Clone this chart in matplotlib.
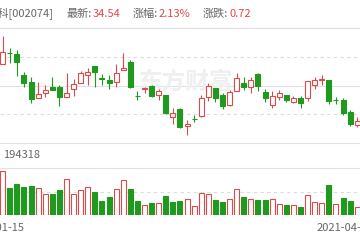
import matplotlib
matplotlib.use('Agg')
import matplotlib.pyplot as plt
from matplotlib.patches import Rectangle

plt.rcParams['font.family'] = ['Noto Sans CJK SC', 'DejaVu Sans']

# Daily K-line data (2021-01-15 .. 2021-04-02)
opens = [45.82, 48.16, 47.82, 43.68, 42.34, 39.14, 40.14, 41.28, 41.28, 39.34,
         40.82, 42.02, 43.68, 45.54, 43.08, 42.68, 42.22, 44.62, 46.34, 39.58,
         40.88, 41.48, 39.68, 39.68, 35.22, 36.82, 33.48, 34.92, 35.48, 39.34,
         41.02, 39.68, 37.68, 40.48, 42.02, 41.22, 43.82, 40.34, 37.68, 39.22,
         39.68, 38.34, 39.02, 39.02, 41.68, 42.74, 42.68, 38.70, 38.62, 36.34,
         33.78]
highs = [51.58, 49.02, 48.68, 44.34, 43.22, 42.22, 41.68, 43.34, 41.68, 44.02,
         42.82, 44.48, 45.14, 45.54, 43.82, 43.68, 45.88, 48.08, 46.68, 40.48,
         41.34, 41.68, 40.82, 39.68, 37.02, 37.02, 34.68, 35.68, 39.68, 42.14,
         41.14, 40.02, 40.68, 44.02, 43.34, 43.34, 44.02, 40.82, 40.54, 40.68,
         39.68, 39.48, 39.48, 42.48, 43.34, 43.68, 42.68, 39.34, 39.02, 36.68,
         35.22]
lows = [45.82, 46.08, 43.48, 41.22, 38.14, 39.14, 39.34, 40.62, 37.48, 39.34,
        39.48, 42.02, 41.68, 41.34, 41.68, 40.78, 41.34, 44.62, 41.02, 38.68,
        40.02, 39.34, 38.68, 35.82, 33.88, 33.02, 31.68, 34.22, 35.34, 38.48,
        38.34, 36.82, 37.48, 40.48, 40.68, 40.14, 40.54, 38.22, 37.02, 38.68,
        38.34, 38.02, 37.14, 38.48, 40.88, 41.68, 37.88, 37.94, 35.68, 33.48,
        33.34]
closes = [48.34, 48.12, 46.22, 42.02, 38.82, 39.94, 40.68, 40.62, 39.34, 40.14,
          41.82, 44.02, 44.34, 44.22, 42.96, 42.08, 44.08, 45.14, 41.38, 39.50,
          41.08, 39.54, 40.54, 36.14, 36.02, 33.34, 33.82, 34.84, 39.14, 41.48,
          39.14, 37.48, 40.34, 43.14, 41.22, 42.68, 41.48, 39.14, 39.48, 40.14,
          38.68, 39.02, 38.14, 42.48, 42.68, 42.82, 38.54, 38.66, 36.02, 33.82,
          34.54]
volumes = [183100, 110400, 128200, 114500, 118600, 110400, 86800, 86800, 103400, 147600,
           86800, 102100, 114500, 95100, 59100, 75700, 108700, 143500, 108700, 59100,
           42600, 48400, 48400, 80600, 53700, 59900, 66100, 37200, 93000, 86800,
           62000, 52500, 66100, 106200, 75700, 67400, 62000, 62000, 66100, 45500,
           40100, 40100, 34300, 83900, 55000, 49600, 122800, 45500, 70300, 59100,
           34300]
prev_close = 46.90
vol_max = 194318
first_date = '2021-01-15'
last_date = '2021-04-02'

# header quote
name = '国轩高科[002074]'
quote = [('最新:', '34.54'), ('涨幅:', '2.13%'), ('涨跌:', '0.72')]

RED = '#dd4a4a'
GREEN = '#1f9a1f'
TXT = '#666666'
LINE = '#e2e2e2'
GRID = '#dcdcdc'


def fy(py):
    return 1 - py / 240


fig = plt.figure(figsize=(3.6, 2.4), dpi=100)
fig.patch.set_facecolor('white')

# --- price panel
ax = fig.add_axes([0, fy(143), 1, 115 / 240])
ax.set_facecolor('none')
ax.set_xlim(-0.38, 50.39)
ymin, ymax = 30.08, 53.08
ax.set_ylim(ymin, ymax)
step = (ymax - ymin) / 4
ax.axhline(ymin + step, color=GRID, lw=0.8, ls=(0, (3, 3)), zorder=1)
ax.axhline(ymin + 2 * step, color=LINE, lw=0.8, zorder=1)
ax.axhline(ymin + 3 * step, color=GRID, lw=0.8, ls=(0, (3, 3)), zorder=1)

# watermark
ax.text(186 / 360, fy(82), '东方财富', transform=fig.transFigure, fontsize=17,
        color='#efefef', ha='center', va='center', fontweight='bold', zorder=1)

for i in range(len(opens)):
    o, h, l, c = opens[i], highs[i], lows[i], closes[i]
    col = RED if c >= o else GREEN
    ax.vlines(i, l, h, color=col, lw=0.8, zorder=2)
    body = Rectangle((i - 0.35, min(o, c)), 0.7, max(abs(c - o), 0.03),
                     facecolor='white' if c >= o else col, edgecolor=col,
                     lw=0.8, zorder=3)
    ax.add_patch(body)

for s in ['left', 'right']:
    ax.spines[s].set_visible(False)
for s in ['top', 'bottom']:
    ax.spines[s].set_color(LINE)
    ax.spines[s].set_linewidth(0.8)
ax.set_xticks([])
ax.set_yticks([])

# --- volume panel
axv = fig.add_axes([0, fy(215), 1, 47 / 240])
axv.set_facecolor('none')
axv.set_xlim(-0.38, 50.39)
axv.set_ylim(0, vol_max)
axv.axhline(vol_max / 2, color=GRID, lw=0.8, ls=(0, (3, 3)), zorder=1)
last = prev_close
for i, v in enumerate(volumes):
    up = closes[i] >= last
    col = RED if up else GREEN
    axv.bar(i, v, width=0.7, facecolor='white' if up else col, edgecolor=col,
            lw=0.8, zorder=3)
    last = closes[i]
for s in ['left', 'right', 'bottom']:
    axv.spines[s].set_visible(False)
axv.spines['top'].set_color(LINE)
axv.spines['top'].set_linewidth(0.8)
axv.set_xticks([])
axv.set_yticks([])

fig.text(40 / 360, fy(155), str(vol_max), color=TXT, fontsize=8,
         ha='right', va='center')

# --- header line
fig.add_artist(plt.Line2D([0, 1], [fy(28), fy(28)], color=LINE, lw=0.8))
fig.text(53 / 360, fy(14), name, color=TXT, fontsize=8, ha='right', va='center')
label_x = [67, 133, 203]
for (lab, val), x in zip(quote, label_x):
    fig.text(x / 360, fy(14), lab, color=TXT, fontsize=8, ha='left', va='center')
    fig.text((x + 26) / 360, fy(14), val, color=RED, fontsize=8, ha='left', va='center')

# dates
fig.text(25 / 360, fy(228), first_date, color=TXT, fontsize=8, ha='right', va='center')
fig.text(317 / 360, fy(228), last_date, color=TXT, fontsize=8, ha='left', va='center')

fig.savefig('out.png', dpi=100)
